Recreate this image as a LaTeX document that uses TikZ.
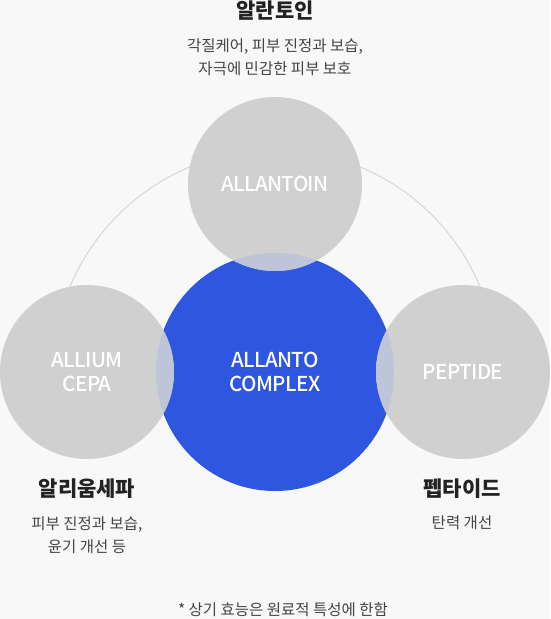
\documentclass[tikz,border=0pt]{standalone}
\usepackage{fontspec}
\setmainfont{Noto Sans CJK KR}
\newfontfamily\medfont[LetterSpace=-3]{Noto Sans CJK KR Medium}
\usepackage{xcolor}
\definecolor{bgc}{HTML}{F8F8F8}
\definecolor{ingc}{HTML}{D0D0D0}
\definecolor{corec}{HTML}{2E56E0}
\definecolor{lapc}{HTML}{BFC5D8}
\definecolor{rimc}{HTML}{D6D6D6}
\definecolor{ttlc}{HTML}{222222}
\definecolor{dscc}{HTML}{444444}
\tikzset{
  ing/.style={circle,fill=ingc,minimum size=174pt,inner sep=0pt,text=white,align=center,font=\medfont\fontsize{20.5}{24}\selectfont},
  core/.style={circle,fill=corec,minimum size=238pt,inner sep=0pt,text=white,align=center,font=\medfont\fontsize{20.5}{24}\selectfont},
  rim/.style={rimc,line width=1pt},
  ttl/.style={text=ttlc,font=\fontsize{21}{24}\selectfont\bfseries},
  dsc/.style={text=dscc,align=center,font=\fontsize{15.5}{23}\selectfont},
  note/.style={text=dscc,font=\fontsize{15.5}{16}\selectfont}
}
\begin{document}
\begin{tikzpicture}[x=1pt,y=-1pt]
\fill[bgc] (0,0) rectangle (550,619);
\useasboundingbox (0,0) rectangle (550,619);
\coordinate (hub) at (275,372);
\draw[rim] (hub) ++(180:222pt) arc[start angle=180,end angle=0,radius=222pt];
\node[core] (cpx) at (hub) {ALLANTO\\COMPLEX};
\node[ing] (aln) at (275,184) {ALLANTOIN};
\node[ing] (cep) at (87,372) {ALLIUM\\CEPA};
\node[ing] (pep) at (463,372) {PEPTIDE};
\begin{scope}
  \clip (hub) circle[radius=119pt];
  \foreach \c in {aln,cep,pep} \fill[lapc] (\c.center) circle[radius=87pt];
\end{scope}
% labels
\node[ttl] (alnT) at (275,11) {알란토인};
\node[dsc] (alnD) at (275,57) {각질케어, 피부 진정과 보습,\\자극에 민감한 피부 보호};
\node[ttl] (cepT) at (87,489) {알리움세파};
\node[dsc] (cepD) at (87,535) {피부 진정과 보습,\\윤기 개선 등};
\node[ttl] (pepT) at (462,489) {펩타이드};
\node[dsc] (pepD) at (462,523) {탄력 개선};
\node[note] (fx) at (283,610) {* 상기 효능은 원료적 특성에 한함};
\end{tikzpicture}
\end{document}
